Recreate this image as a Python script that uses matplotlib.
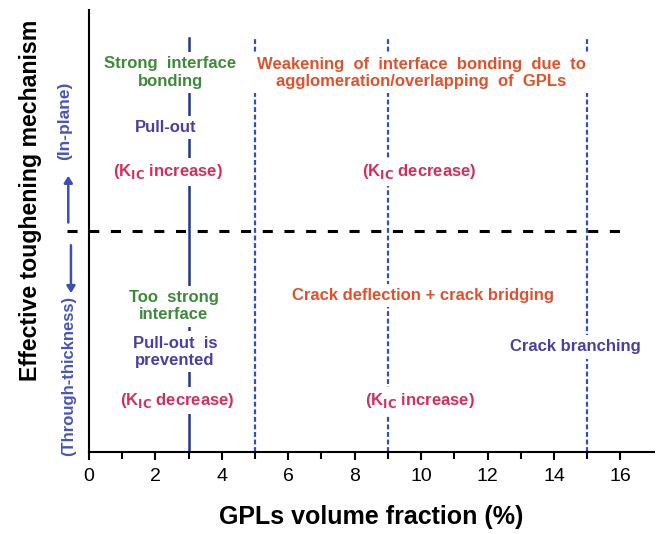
import matplotlib
matplotlib.use("Agg")
import matplotlib.pyplot as plt

plt.rcParams['font.family'] = ['Liberation Sans', 'DejaVu Sans']

# Data
boundaries = [3, 5, 9, 15]           # GPL volume fraction boundaries (%)
boundary_styles = ['solid', 'dashed', 'dashed', 'dashed']
xticks_major = [0, 2, 4, 6, 8, 10, 12, 14, 16]
xticks_minor = [1, 3, 5, 7, 9, 11, 13, 15]
divider_level = 0.5

GREEN = '#3f8a3a'
ORANGE = '#e2502c'
CRIMSON = '#d42f5c'
PURPLE = '#4b3fa3'
LBLUE = '#2f4fc4'
DBLUE = '#22378f'

# (x, y, text, color)
annotations = [
    (2.45, 0.858, 'Strong  interface\nbonding', GREEN),
    (2.3, 0.733, 'Pull-out', PURPLE),
    (2.38, 0.633, r'(K$_{\mathbf{IC}}$ increase)', CRIMSON),
    (10.0, 0.857, 'Weakening  of  interface  bonding  due  to\nagglomeration/overlapping  of  GPLs', ORANGE),
    (9.95, 0.633, r'(K$_{\mathbf{IC}}$ decrease)', CRIMSON),
    (2.56, 0.329, 'Too  strong\ninterface', GREEN),
    (2.59, 0.226, 'Pull-out  is\nprevented', PURPLE),
    (2.65, 0.116, r'(K$_{\mathbf{IC}}$ decrease)', CRIMSON),
    (10.07, 0.353, 'Crack deflection + crack bridging', ORANGE),
    (9.96, 0.115, r'(K$_{\mathbf{IC}}$ increase)', CRIMSON),
    (14.65, 0.237, 'Crack branching', PURPLE),
]

fig = plt.figure(figsize=(6.63, 5.34), dpi=100)
ax = fig.add_axes([0.134, 0.154, 0.852, 0.828])
ax.set_xlim(0, 17)
ax.set_ylim(0, 1)

for x, st in zip(boundaries, boundary_styles):
    if st == 'solid':
        ax.plot([x, x], [0, 0.935], color=DBLUE, lw=1.8, zorder=1)
    else:
        ax.plot([x, x], [0, 0.935], color=LBLUE, lw=1.6, zorder=1,
                linestyle=(0, (2.2, 1.2)))

ax.plot([-0.66, 16.05], [divider_level, divider_level], color='black', lw=2.2,
        linestyle=(0, (3.3, 3.8)), clip_on=False, zorder=1)

for x, y, t, c in annotations:
    ax.text(x, y, t, color=c, ha='center', va='center', fontsize=12,
            fontweight='bold', linespacing=1.2, zorder=3,
            bbox=dict(facecolor='white', edgecolor='none', pad=3))

ax.spines['top'].set_visible(False)
ax.spines['right'].set_visible(False)
ax.spines['left'].set_linewidth(1.5)
ax.spines['bottom'].set_linewidth(1.5)
ax.set_yticks([])
ax.set_xticks(xticks_major)
ax.set_xticks(xticks_minor, minor=True)
ax.tick_params(axis='x', which='major', length=6, width=1.5, labelsize=14,
               direction='out', pad=6)
ax.tick_params(axis='x', which='minor', length=5, width=1.5, direction='out')
ax.set_xlabel('GPLs volume fraction (%)', fontsize=18, fontweight='bold', labelpad=14)

# y-axis label components
fig.text(0.046, 0.624, 'Effective toughening mechanism', rotation=90, ha='center',
         va='center', fontsize=16.7, fontweight='bold')
fig.text(0.098, 0.773, '(In-plane)', rotation=90, ha='center', va='center',
         fontsize=12.5, fontweight='bold', color='#4a55b8')
fig.text(0.104, 0.296, '(Through-thickness)', rotation=90, ha='center', va='center',
         fontsize=12, fontweight='bold', color='#4a55b8')
fig.patches.append(matplotlib.patches.FancyArrowPatch(
    (0.103, 0.578), (0.103, 0.676), transform=fig.transFigure,
    arrowstyle='-|>,head_length=4,head_width=2.5', color='#3b4fb5', lw=1.8))
fig.patches.append(matplotlib.patches.FancyArrowPatch(
    (0.107, 0.546), (0.107, 0.446), transform=fig.transFigure,
    arrowstyle='-|>,head_length=4,head_width=2.5', color='#3b4fb5', lw=1.8))

fig.savefig('out.png', dpi=100, facecolor='white')
